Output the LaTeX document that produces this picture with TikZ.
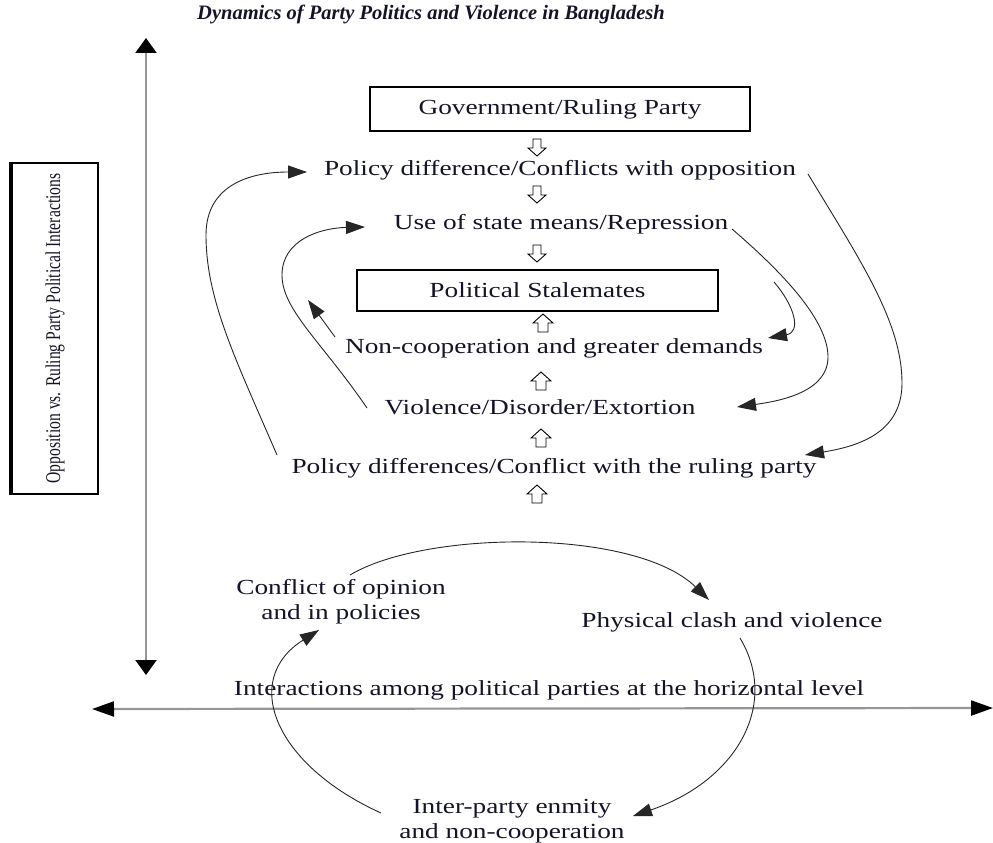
\documentclass[tikz,border=0pt]{standalone}
\usepackage{fontspec}
\setmainfont{Liberation Serif}
\newfontfamily\bodyf{Liberation Serif}[FakeStretch=1.27]
\newfontfamily\sidef{Liberation Serif}[FakeStretch=0.745]
\usetikzlibrary{arrows.meta}
\definecolor{ink}{RGB}{20,20,40}
\definecolor{axisgray}{RGB}{150,150,150}
\begin{document}
\begin{tikzpicture}[x=1pt,y=-1pt,
  txt/.style={font=\bodyf\fontsize{21.5}{25}\selectfont, text=ink, inner sep=0pt, align=center},
  boxn/.style={draw=black, line width=2.2pt, inner sep=0pt},
  conn/.style={line width=0.9pt, draw=black!85, -{Triangle[length=19pt,width=13pt]}},
  axisline/.style={line width=2.2pt, draw=axisgray},
  hollow/.style={draw=black, line width=0.9pt, fill=white},
  hdown/.pic={\draw[hollow] (-4,0) -- (-4,9) -- (-9,9) -- (0,17) -- (9,9) -- (4,9) -- (4,0) -- cycle;},
  hup/.pic={\draw[hollow] (-5,0) -- (-5,-9) -- (-10,-9) -- (0,-18) -- (10,-9) -- (5,-9) -- (5,0) -- cycle;}
]
\useasboundingbox (0,0) rectangle (993,843);

% title
\node[inner sep=0pt, text=ink, font=\rmfamily\bfseries\itshape\fontsize{20.5}{24}\selectfont] (title) at (431,14) {Dynamics of Party Politics and Violence in Bangladesh};

% axes
\coordinate (vtop) at (146,38);
\coordinate (vbot) at (146,675);
\coordinate (hleft) at (92,709);
\coordinate (hright) at (993,708);
\draw[axisline, {Triangle[length=15pt,width=21pt,color=black]}-{Triangle[length=15pt,width=21pt,color=black]}] (vtop) -- (vbot);
\draw[axisline, {Triangle[length=22pt,width=15pt,color=black]}-{Triangle[length=22pt,width=15pt,color=black]}] (hleft) -- (hright);

% side box
\node[boxn, line width=2pt, rotate=90, minimum width=331, minimum height=86,
      font=\sidef\fontsize{21}{25}\selectfont, text=ink] (side) at (55,328.5)
      {Opposition vs. Ruling Party Political Interactions};
\draw[line width=3.5pt] (side.north west) -- (side.north east);

% vertical chain
\node[boxn, txt, minimum width=380, minimum height=44] (gov) at (560,109) {Government/Ruling Party};
\node[txt] (pdc) at (560,170) {Policy difference/Conflicts with opposition};
\node[txt] (usm) at (561,224) {Use of state means/Repression};
\node[boxn, txt, minimum width=361, minimum height=41] (ps) at (537.5,290.5) {Political Stalemates};
\node[txt] (ncd) at (554,348) {Non-cooperation and greater demands};
\node[txt] (vde) at (540,407) {Violence/Disorder/Extortion};
\node[txt] (pdr) at (554,468) {Policy differences/Conflict with the ruling party};

% hollow arrows
\pic at (537,139) {hdown};
\pic at (537,186) {hdown};
\pic at (537,245) {hdown};
\pic at (543,332) {hup};
\pic at (541,390) {hup};
\pic at (541,447) {hup};
\pic at (537,503) {hup};

% horizontal level
\node[txt] (coo) at (341,602) {Conflict of opinion\\and in policies};
\node[txt] (pcv) at (732,622) {Physical clash and violence};
\node[txt] (horiz) at (549,690) {Interactions among political parties at the horizontal level};
\node[txt] (ipe) at (512,821) {Inter-party enmity\\and non-cooperation};

% connector end points
\coordinate (a1s) at (277,455);
\coordinate (a1m) at (206,235);
\coordinate (a1e) at (307,172);
\coordinate (a2s) at (367,408);
\coordinate (a2m) at (282,275);
\coordinate (a2e) at (365,227);
\coordinate (a3s) at (335,337);
\coordinate (a3e) at (308,300);
\coordinate (a4s) at (808,174);
\coordinate (a4m) at (902,383);
\coordinate (a4e) at (805,455);
\coordinate (a5s) at (732,229);
\coordinate (a5m) at (828,357);
\coordinate (a5e) at (737,407);
\coordinate (a6s) at (774,282);
\coordinate (a6e) at (768,338);

\draw[conn] (a1s) .. controls (236,360) and (206,300) .. (a1m)
                  .. controls (206,185) and (250,172) .. (a1e);
\draw[conn] (a2s) .. controls (322,342) and (282,310) .. (a2m)
                  .. controls (282,240) and (320,228) .. (a2e);
\draw[conn] (a3s) -- (a3e);
\draw[conn] (a4s) .. controls (860,260) and (902,322) .. (a4m)
                  .. controls (902,432) and (860,446) .. (a4e);
\draw[conn] (a5s) .. controls (782,272) and (828,320) .. (a5m)
                  .. controls (828,392) and (780,401) .. (a5e);
\draw[conn] (a6s) .. controls (794,305) and (802,332) .. (a6e);

% cycle
\coordinate (c1s) at (350,575);
\coordinate (c1e) at (709,600);
\coordinate (c2s) at (740,638);
\coordinate (c2e) at (633,816);
\coordinate (c3s) at (381,813);
\coordinate (c3e) at (319,630);
\draw[conn] (c1s) .. controls (425,530) and (635,528) .. (c1e);
\draw[conn] (c2s) .. controls (780,705) and (736,781) .. (c2e);
\draw[conn] (c3s) .. controls (275,765) and (240,680) .. (c3e);
\end{tikzpicture}
\end{document}
